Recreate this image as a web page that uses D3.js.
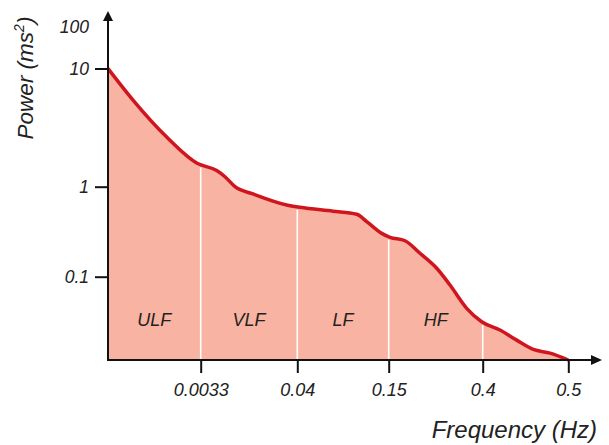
<!DOCTYPE html>
<html>
<head>
<meta charset="utf-8">
<title>Power spectrum bands</title>
<style>
    body { margin: 0; background: #fff; }
    text { font-family: "Liberation Sans", Arial, sans-serif; font-style: italic; fill: #222; }
</style>
</head>
<body>
<div id="chart"></div>
<script src="https://cdn.jsdelivr.net/npm/d3@7"></script>
<script>
    // spectrum (Hz, ms^2)
    const freq = [0, 0.00089, 0.00209, 0.00317, 0.00938, 0.01253, 0.01633, 0.02317, 0.03597, 0.04325,
                  0.08296, 0.1115, 0.1235, 0.1416, 0.1535, 0.1934, 0.2332, 0.2777, 0.313, 0.3574,
                  0.3973, 0.4202, 0.4397, 0.4591, 0.4786, 0.5]
    const power = [10, 5.41, 2.63, 1.58, 1.37, 1.215, 1.0, 0.83, 0.626, 0.59,
                   0.534, 0.494, 0.409, 0.303, 0.274, 0.251, 0.182, 0.124, 0.0809, 0.0447,
                   0.0318, 0.0257, 0.0199, 0.0157, 0.0143, 0.012]

    const bandNames = ["ULF", "VLF", "LF", "HF"]
    const bandEdges = [0, 0.0033, 0.04, 0.15, 0.4]
    const xTicks = [0.0033, 0.04, 0.15, 0.4, 0.5]
    const yTicks = [0.1, 1, 10, 100]
    const yTickLabels = ["0.1", "1", "10", "100"]

    let width = 609, height = 445

    let svg = d3.select("#chart").append("svg")
        .attr("width", width)
        .attr("height", height)

    // the axes are not evenly spaced in the drawing, so piecewise scales
    let x = d3.scaleLinear()
        .domain([0, 0.0033, 0.04, 0.15, 0.4, 0.5])
        .range([108, 200.7, 297.3, 388.7, 482.7, 568.3])
    let y = d3.scaleLog()
        .domain([0.012, 0.1, 1, 10, 100])
        .range([360, 276.7, 186.7, 68.5, 27])

    let pts = freq.map((f, i) => [x(f), y(power[i])])

    let area = d3.area()
        .x(d => d[0]).y0(y(0.012)).y1(d => d[1])
        .curve(d3.curveMonotoneX)
    let line = d3.line()
        .x(d => d[0]).y(d => d[1])
        .curve(d3.curveMonotoneX)

    svg.append("path")
        .attr("d", area(pts))
        .attr("fill", "#f9b3a2")

    // curve height at a pixel x, for the white band dividers
    function curveY(px) {
        for (let i = 1; i < pts.length; i++) {
            if (pts[i][0] >= px) {
                let t = (px - pts[i-1][0]) / (pts[i][0] - pts[i-1][0])
                return pts[i-1][1] + t * (pts[i][1] - pts[i-1][1])
            }
        }
        return pts[pts.length - 1][1]
    }

    svg.selectAll(".divider")
        .data(bandEdges.slice(1))
        .enter().append("line")
        .attr("class", "divider")
        .attr("x1", d => x(d)).attr("x2", d => x(d))
        .attr("y1", y(0.012))
        .attr("y2", d => curveY(x(d)) + 3)
        .attr("stroke", "#fff")
        .attr("stroke-width", 1.6)

    svg.append("path")
        .attr("d", line(pts))
        .attr("fill", "none")
        .attr("stroke", "#cf161f")
        .attr("stroke-width", 3.5)
        .attr("stroke-linejoin", "round")

    svg.selectAll(".band")
        .data(bandNames)
        .enter().append("text")
        .attr("class", "band")
        .attr("x", (d, i) => (x(bandEdges[i]) + x(xTicks[i])) / 2)
        .attr("y", 326)
        .attr("text-anchor", "middle")
        .attr("font-size", 18)
        .text(d => d)

    // axes: ticks and labels from d3, lines with arrows drawn by hand
    let xAxis = svg.append("g")
        .attr("transform", "translate(0," + y(0.012) + ")")
        .call(d3.axisBottom(x).tickValues(xTicks).tickFormat(d => String(d)).tickSize(13).tickPadding(10))
    xAxis.select(".domain").remove()
    xAxis.selectAll("line").attr("stroke", "#111").attr("stroke-width", 2)
    xAxis.selectAll("text").attr("font-size", 18).attr("font-family", null).attr("fill", "#222")

    let yAxis = svg.append("g")
        .attr("transform", "translate(" + x(0) + ",0)")
        .call(d3.axisLeft(y).tickValues(yTicks).tickFormat((d, i) => yTickLabels[i]).tickSize(13).tickPadding(6))
    yAxis.select(".domain").remove()
    yAxis.selectAll("line").attr("stroke", "#111").attr("stroke-width", 2)
        .filter(d => d === 100).remove()
    yAxis.selectAll("text").attr("font-size", 17.5).attr("font-family", null).attr("fill", "#222")

    svg.append("line")
        .attr("x1", x(0)).attr("x2", x(0))
        .attr("y1", y(0.012) + 1).attr("y2", 20)
        .attr("stroke", "#111").attr("stroke-width", 2)
    svg.append("path")
        .attr("d", "M" + (x(0) - 5) + ",21L" + x(0) + ",11L" + (x(0) + 5) + ",21Z")
        .attr("fill", "#111")

    svg.append("line")
        .attr("x1", x(0) - 1).attr("x2", 592)
        .attr("y1", y(0.012)).attr("y2", y(0.012))
        .attr("stroke", "#111").attr("stroke-width", 2)
    svg.append("path")
        .attr("d", "M591," + (y(0.012) - 5) + "L602," + y(0.012) + "L591," + (y(0.012) + 5) + "Z")
        .attr("fill", "#111")

    // titles
    let yTitle = svg.append("text")
        .attr("transform", "translate(33,78) rotate(-90)")
        .attr("text-anchor", "middle")
        .attr("font-size", 22.5)
    yTitle.append("tspan").text("Power (ms")
    yTitle.append("tspan").attr("font-size", 14).attr("dy", -9).text("2")
    yTitle.append("tspan").attr("dy", 9).text(")")

    svg.append("text")
        .attr("x", 597)
        .attr("y", 438)
        .attr("text-anchor", "end")
        .attr("font-size", 24)
        .text("Frequency (Hz)")
</script>
</body>
</html>
